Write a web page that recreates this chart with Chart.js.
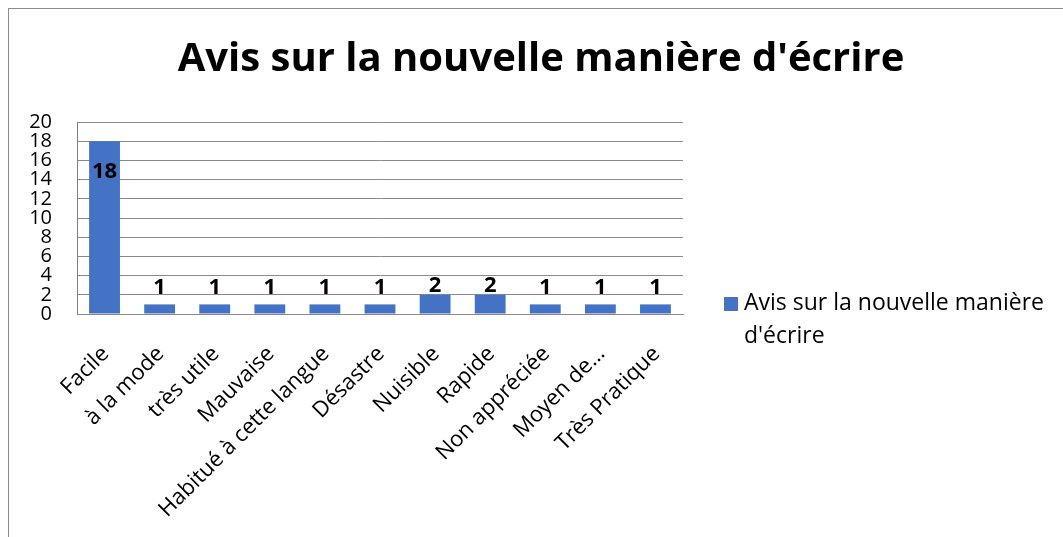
<!DOCTYPE html>
<html>
<head>
<meta charset="utf-8">
<script src="https://cdn.jsdelivr.net/npm/chart.js@4/dist/chart.umd.min.js"></script>
<style>
  html, body { margin: 0; padding: 0; background: #fff; }
  #wrap { position: relative; width: 1063px; height: 537px; overflow: hidden; }
  #frame { position: absolute; left: 8px; top: 8px; right: -2px; bottom: -2px;
           border-left: 1px solid #8c8c8c; border-top: 1px solid #8c8c8c; }
  canvas { position: absolute; left: 0; top: 0; }
</style>
</head>
<body>
<div id="wrap">
  <div id="frame"></div>
  <canvas id="myChart" width="1063" height="537"></canvas>
</div>
<script>
// données du graphique
const chartTitle = "Avis sur la nouvelle manière d'écrire";
const seriesName = "Avis sur la nouvelle manière d'écrire";
const categories = ['Facile', 'à la mode', 'très utile', 'Mauvaise', 'Habitué à cette langue',
    'Désastre', 'Nuisible', 'Rapide', 'Non appréciée', 'Moyen de…', 'Très Pratique'];
const values = [18, 1, 1, 1, 1, 1, 2, 2, 1, 1, 1];
const yTicks = [0, 2, 4, 6, 8, 10, 12, 14, 16, 18, 20];

const barColor = '#4472C4';
const fontName = '"Open Sans"';

// titre, étiquettes de données et légende dessinés à la main
const extras = {
    id: 'extras',
    afterDatasetsDraw(chart) {
        const { ctx, chartArea } = chart;
        const meta = chart.getDatasetMeta(0);
        ctx.save();
        ctx.fillStyle = '#000';
        ctx.textAlign = 'center';
        ctx.textBaseline = 'middle';
        ctx.font = 'bold 22px ' + fontName;
        meta.data.forEach((bar, i) => {
            const v = values[i];
            if (v > 15) {
                ctx.fillText(String(v), bar.x, bar.y + 31);
            } else {
                ctx.fillText(String(v), bar.x, Math.min(bar.y - 9, chartArea.bottom - 26));
            }
        });

        // titre
        ctx.font = 'bold 40px ' + fontName;
        ctx.fillText(chartTitle, 541, 60);

        // légende
        const lx = chartArea.right + 41;
        ctx.fillStyle = barColor;
        ctx.fillRect(lx, 297, 14, 14);
        ctx.fillStyle = '#000';
        ctx.textAlign = 'left';
        ctx.font = '23px ' + fontName;
        ctx.fillText('Avis sur la nouvelle manière', lx + 20, 303);
        ctx.fillText("d'écrire", lx + 20, 336);
        ctx.restore();
    }
};

const ctx = document.getElementById('myChart').getContext('2d');
new Chart(ctx, {
    type: 'bar',
    data: {
        labels: categories,
        datasets: [{
            label: seriesName,
            data: values,
            backgroundColor: barColor,
            borderWidth: 0,
            barPercentage: 0.56,
            categoryPercentage: 1
        }]
    },
    options: {
        responsive: false,
        animation: false,
        layout: { padding: { left: 25, right: 380, top: 122, bottom: 0 } },
        plugins: {
            legend: { display: false },
            title: { display: false },
            tooltip: { enabled: false }
        },
        scales: {
            y: {
                min: 0,
                max: 20,
                afterBuildTicks: (scale) => { scale.ticks = yTicks.map(v => ({ value: v })); },
                afterFit: (scale) => { scale.width = 52; },
                ticks: { color: '#000', autoSkip: false, padding: 25, font: { family: fontName, size: 20 } },
                grid: { color: '#8a8a8a', drawTicks: false },
                border: { color: '#7f7f7f', width: 1 }
            },
            x: {
                afterFit: (scale) => { scale.height = 223; },
                ticks: {
                    color: '#000',
                    autoSkip: false,
                    minRotation: 45,
                    maxRotation: 45,
                    padding: 27,
                    labelOffset: 1,
                    font: { family: fontName, size: 22 }
                },
                grid: { display: false, drawTicks: false },
                border: { color: '#8a8a8a', width: 1 }
            }
        }
    },
    plugins: [extras]
});
</script>
</body>
</html>
